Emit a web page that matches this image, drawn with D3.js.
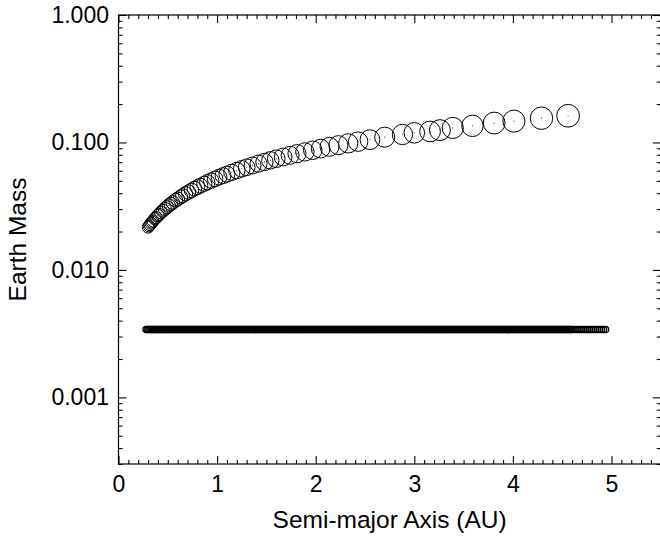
<!DOCTYPE html>
<html><head><meta charset="utf-8">
<script src="https://cdn.jsdelivr.net/npm/d3@7"></script>
<style>
html,body{margin:0;padding:0;background:#fff;}
text{font-family:"Liberation Sans",Arial,Helvetica,sans-serif;}
</style></head>
<body><svg id="chart" width="660" height="539"></svg>
<script>
// ---- data ----
const upperA = [0.30,0.31,0.32,0.33,0.34,0.35,0.37,0.38,0.40,0.41,0.43,0.45,0.47,0.49,0.51,0.53,0.55,0.58,0.60,0.63,
  0.65,0.68,0.71,0.74,0.77,0.80,0.83,0.87,0.90,0.94,0.98,1.02,1.06,1.10,1.15,1.20,1.25,1.30,1.36,1.42,
  1.48,1.54,1.60,1.67,1.74,1.81,1.89,1.97,2.05,2.14,2.23,2.33,2.43,2.55,2.70,2.88,3.00,3.16,3.26,3.39,
  3.59,3.81,4.01,4.29,4.56];
const upperMass = [0.0216,0.0221,0.0226,0.0232,0.0237,0.0242,0.0252,0.0257,0.0267,0.0272,0.0282,0.0291,0.0301,0.0310,0.0320,0.0329,0.0338,0.0352,0.0360,0.0374,
  0.0382,0.0396,0.0408,0.0421,0.0434,0.0446,0.0458,0.0474,0.0487,0.0502,0.0518,0.0534,0.0549,0.0564,0.0583,0.0602,0.0621,0.0639,0.0660,0.0682,
  0.0703,0.0724,0.0745,0.0769,0.0793,0.0816,0.0843,0.0869,0.0895,0.0924,0.0952,0.0984,0.1015,0.1052,0.1100,0.1155,0.1190,0.1220,0.1250,0.1300,
  0.1350,0.1420,0.1470,0.1550,0.1620];
const lowerA = [0.28,0.29,
  0.30,0.31,0.32,0.33,0.34,0.35,0.36,0.37,0.38,0.39,0.40,0.41,0.42,0.43,0.44,0.45,0.46,0.47,0.48,0.49,
  0.50,0.51,0.52,0.53,0.54,0.55,0.56,0.57,0.58,0.59,0.60,0.61,0.62,0.63,0.64,0.65,0.66,0.67,0.68,0.69,
  0.70,0.71,0.72,0.73,0.74,0.75,0.76,0.77,0.78,0.79,0.80,0.81,0.82,0.83,0.84,0.85,0.86,0.87,0.88,0.89,
  0.90,0.91,0.92,0.93,0.94,0.95,0.96,0.97,0.98,0.99,1.00,1.01,1.02,1.03,1.04,1.05,1.06,1.07,1.08,1.09,
  1.10,1.11,1.12,1.13,1.14,1.15,1.16,1.17,1.18,1.19,1.20,1.21,1.22,1.23,1.24,1.25,1.26,1.27,1.28,1.29,
  1.30,1.31,1.32,1.33,1.34,1.35,1.36,1.37,1.38,1.39,1.40,1.41,1.42,1.43,1.44,1.45,1.46,1.47,1.48,1.49,
  1.50,1.51,1.52,1.53,1.54,1.55,1.56,1.57,1.58,1.59,1.60,1.61,1.62,1.63,1.64,1.65,1.66,1.67,1.68,1.69,
  1.70,1.71,1.72,1.73,1.74,1.75,1.76,1.77,1.78,1.79,1.80,1.81,1.82,1.83,1.84,1.85,1.86,1.87,1.88,1.89,
  1.90,1.91,1.92,1.93,1.94,1.95,1.96,1.97,1.98,1.99,2.00,2.01,2.02,2.03,2.04,2.05,2.06,2.07,2.08,2.09,
  2.10,2.11,2.12,2.13,2.14,2.15,2.16,2.17,2.18,2.19,2.20,2.21,2.22,2.23,2.24,2.25,2.26,2.27,2.28,2.29,
  2.30,2.31,2.32,2.33,2.34,2.35,2.36,2.37,2.38,2.39,2.40,2.41,2.42,2.43,2.44,2.45,2.46,2.47,2.48,2.49,
  2.50,2.51,2.52,2.53,2.54,2.55,2.56,2.57,2.58,2.59,2.60,2.61,2.62,2.63,2.64,2.65,2.66,2.67,2.68,2.69,
  2.70,2.71,2.72,2.73,2.74,2.75,2.76,2.77,2.78,2.79,2.80,2.81,2.82,2.83,2.84,2.85,2.86,2.87,2.88,2.89,
  2.90,2.91,2.92,2.93,2.94,2.95,2.96,2.97,2.98,2.99,3.00,3.01,3.02,3.03,3.04,3.05,3.06,3.07,3.08,3.09,
  3.10,3.11,3.12,3.13,3.14,3.15,3.16,3.17,3.18,3.19,3.20,3.21,3.22,3.23,3.24,3.25,3.26,3.27,3.28,3.29,
  3.30,3.31,3.32,3.33,3.34,3.35,3.36,3.37,3.38,3.39,3.40,3.41,3.42,3.43,3.44,3.45,3.46,3.47,3.48,3.49,
  3.50,3.51,3.52,3.53,3.54,3.55,3.56,3.57,3.58,3.59,3.60,3.61,3.62,3.63,3.64,3.65,3.66,3.67,3.68,3.69,
  3.70,3.71,3.72,3.73,3.74,3.75,3.76,3.77,3.78,3.79,3.80,3.81,3.82,3.83,3.84,3.85,3.86,3.87,3.88,3.89,
  3.90,3.91,3.92,3.93,3.94,3.95,3.96,3.97,3.98,3.99,4.00,4.01,4.02,4.03,4.04,4.05,4.06,4.07,4.08,4.09,
  4.10,4.11,4.12,4.13,4.14,4.15,4.16,4.17,4.18,4.19,4.20,4.21,4.22,4.23,4.24,4.25,4.26,4.27,4.28,4.29,
  4.30,4.31,4.32,4.33,4.34,4.35,4.36,4.37,4.38,4.39,4.40,4.41,4.42,4.43,4.44,4.45,4.46,4.47,4.48,4.49,
  4.50,4.51,4.52,4.53,4.54,4.55,4.56,4.57,4.58,4.59,4.60,4.62,4.64,4.66,4.68,4.70,4.72,4.74,4.76,4.78,
  4.80,4.82,4.84,4.86,4.88,4.90,4.92,4.94];
const lowerMass = 0.0034;
const xTicks = [0,1,2,3,4,5];
const yTicks = [0.001,0.01,0.1,1];
const xTitle = "Semi-major Axis (AU)";
const yTitle = "Earth Mass";

// ---- layout ----
const L = 118.5, R = 660.8, T = 15, B = 464;
const svg = d3.select("#chart");
const x = d3.scaleLinear().domain([0,5.5]).range([L,R]);
const y = d3.scaleLog().domain([0.0003,1]).range([B,T]);
const rScale = d3.scalePow().exponent(1/3).domain([0,0.162]).range([0,11.4]);

const xMinor = d3.range(1,55).map(i=>i/10).filter(v=>Math.abs(v-Math.round(v))>1e-6);
const yMinor = [];
[0.0001,0.001,0.01,0.1].forEach(d=>{for(let k=2;k<=9;k++){const v=d*k; if(v>=0.0003 && v<1) yMinor.push(v);}});

const fontSize = 23, titleSize = 24.5;
function styleAxis(g){
  g.selectAll("path.domain").remove();
  g.selectAll("line").attr("stroke","#000").attr("stroke-width",1.1);
  g.selectAll("text").attr("font-size",fontSize).attr("fill","#000").attr("font-family","Liberation Sans, Arial, sans-serif");
}
// bottom
svg.append("g").attr("transform",`translate(0,${B})`)
  .call(d3.axisBottom(x).tickValues(xTicks).tickFormat(d3.format("d")).tickSizeInner(-8).tickSizeOuter(0).tickPadding(12)).call(styleAxis);
svg.append("g").attr("transform",`translate(0,${B})`)
  .call(d3.axisBottom(x).tickValues(xMinor).tickFormat("").tickSizeInner(-4).tickSizeOuter(0)).call(styleAxis);
// top
svg.append("g").attr("transform",`translate(0,${T})`)
  .call(d3.axisTop(x).tickValues(xTicks).tickFormat("").tickSizeInner(-8).tickSizeOuter(0)).call(styleAxis);
svg.append("g").attr("transform",`translate(0,${T})`)
  .call(d3.axisTop(x).tickValues(xMinor).tickFormat("").tickSizeInner(-4).tickSizeOuter(0)).call(styleAxis);
// left
svg.append("g").attr("transform",`translate(${L},0)`)
  .call(d3.axisLeft(y).tickValues(yTicks).tickFormat(d3.format(".3f")).tickSizeInner(-8).tickSizeOuter(0).tickPadding(9.5)).call(styleAxis);
svg.append("g").attr("transform",`translate(${L},0)`)
  .call(d3.axisLeft(y).tickValues(yMinor).tickFormat("").tickSizeInner(-4).tickSizeOuter(0)).call(styleAxis);
// right
svg.append("g").attr("transform",`translate(${R},0)`)
  .call(d3.axisRight(y).tickValues(yTicks).tickFormat("").tickSizeInner(-8).tickSizeOuter(0)).call(styleAxis);
svg.append("g").attr("transform",`translate(${R},0)`)
  .call(d3.axisRight(y).tickValues(yMinor).tickFormat("").tickSizeInner(-4).tickSizeOuter(0)).call(styleAxis);

// frame
svg.append("rect").attr("x",L).attr("y",T).attr("width",R-L).attr("height",B-T)
  .attr("fill","none").attr("stroke","#000").attr("stroke-width",1.2);

// lower series
svg.append("g").selectAll("circle").data(lowerA).join("circle")
  .attr("cx",d=>x(d)).attr("cy",y(lowerMass)).attr("r",rScale(lowerMass))
  .attr("fill","none").attr("stroke","#000").attr("stroke-width",1.2);

// upper series
const up = upperA.map((a,i)=>({a, m: upperMass[i]}));
svg.append("g").selectAll("circle").data(up).join("circle")
  .attr("cx",d=>x(d.a)).attr("cy",d=>y(d.m)).attr("r",d=>rScale(d.m))
  .attr("fill","none").attr("stroke","#000").attr("stroke-width",1);
svg.append("g").selectAll("circle").data(up).join("circle")
  .attr("cx",d=>x(d.a)).attr("cy",d=>y(d.m)).attr("r",0.6).attr("fill","#444");

// titles
svg.append("text").attr("x",(L+R)/2).attr("y",528).attr("text-anchor","middle")
  .attr("font-size",titleSize).text(xTitle);
svg.append("text").attr("transform",`translate(26,${(T+B)/2}) rotate(-90)`).attr("text-anchor","middle")
  .attr("font-size",titleSize).text(yTitle);
</script></body></html>
